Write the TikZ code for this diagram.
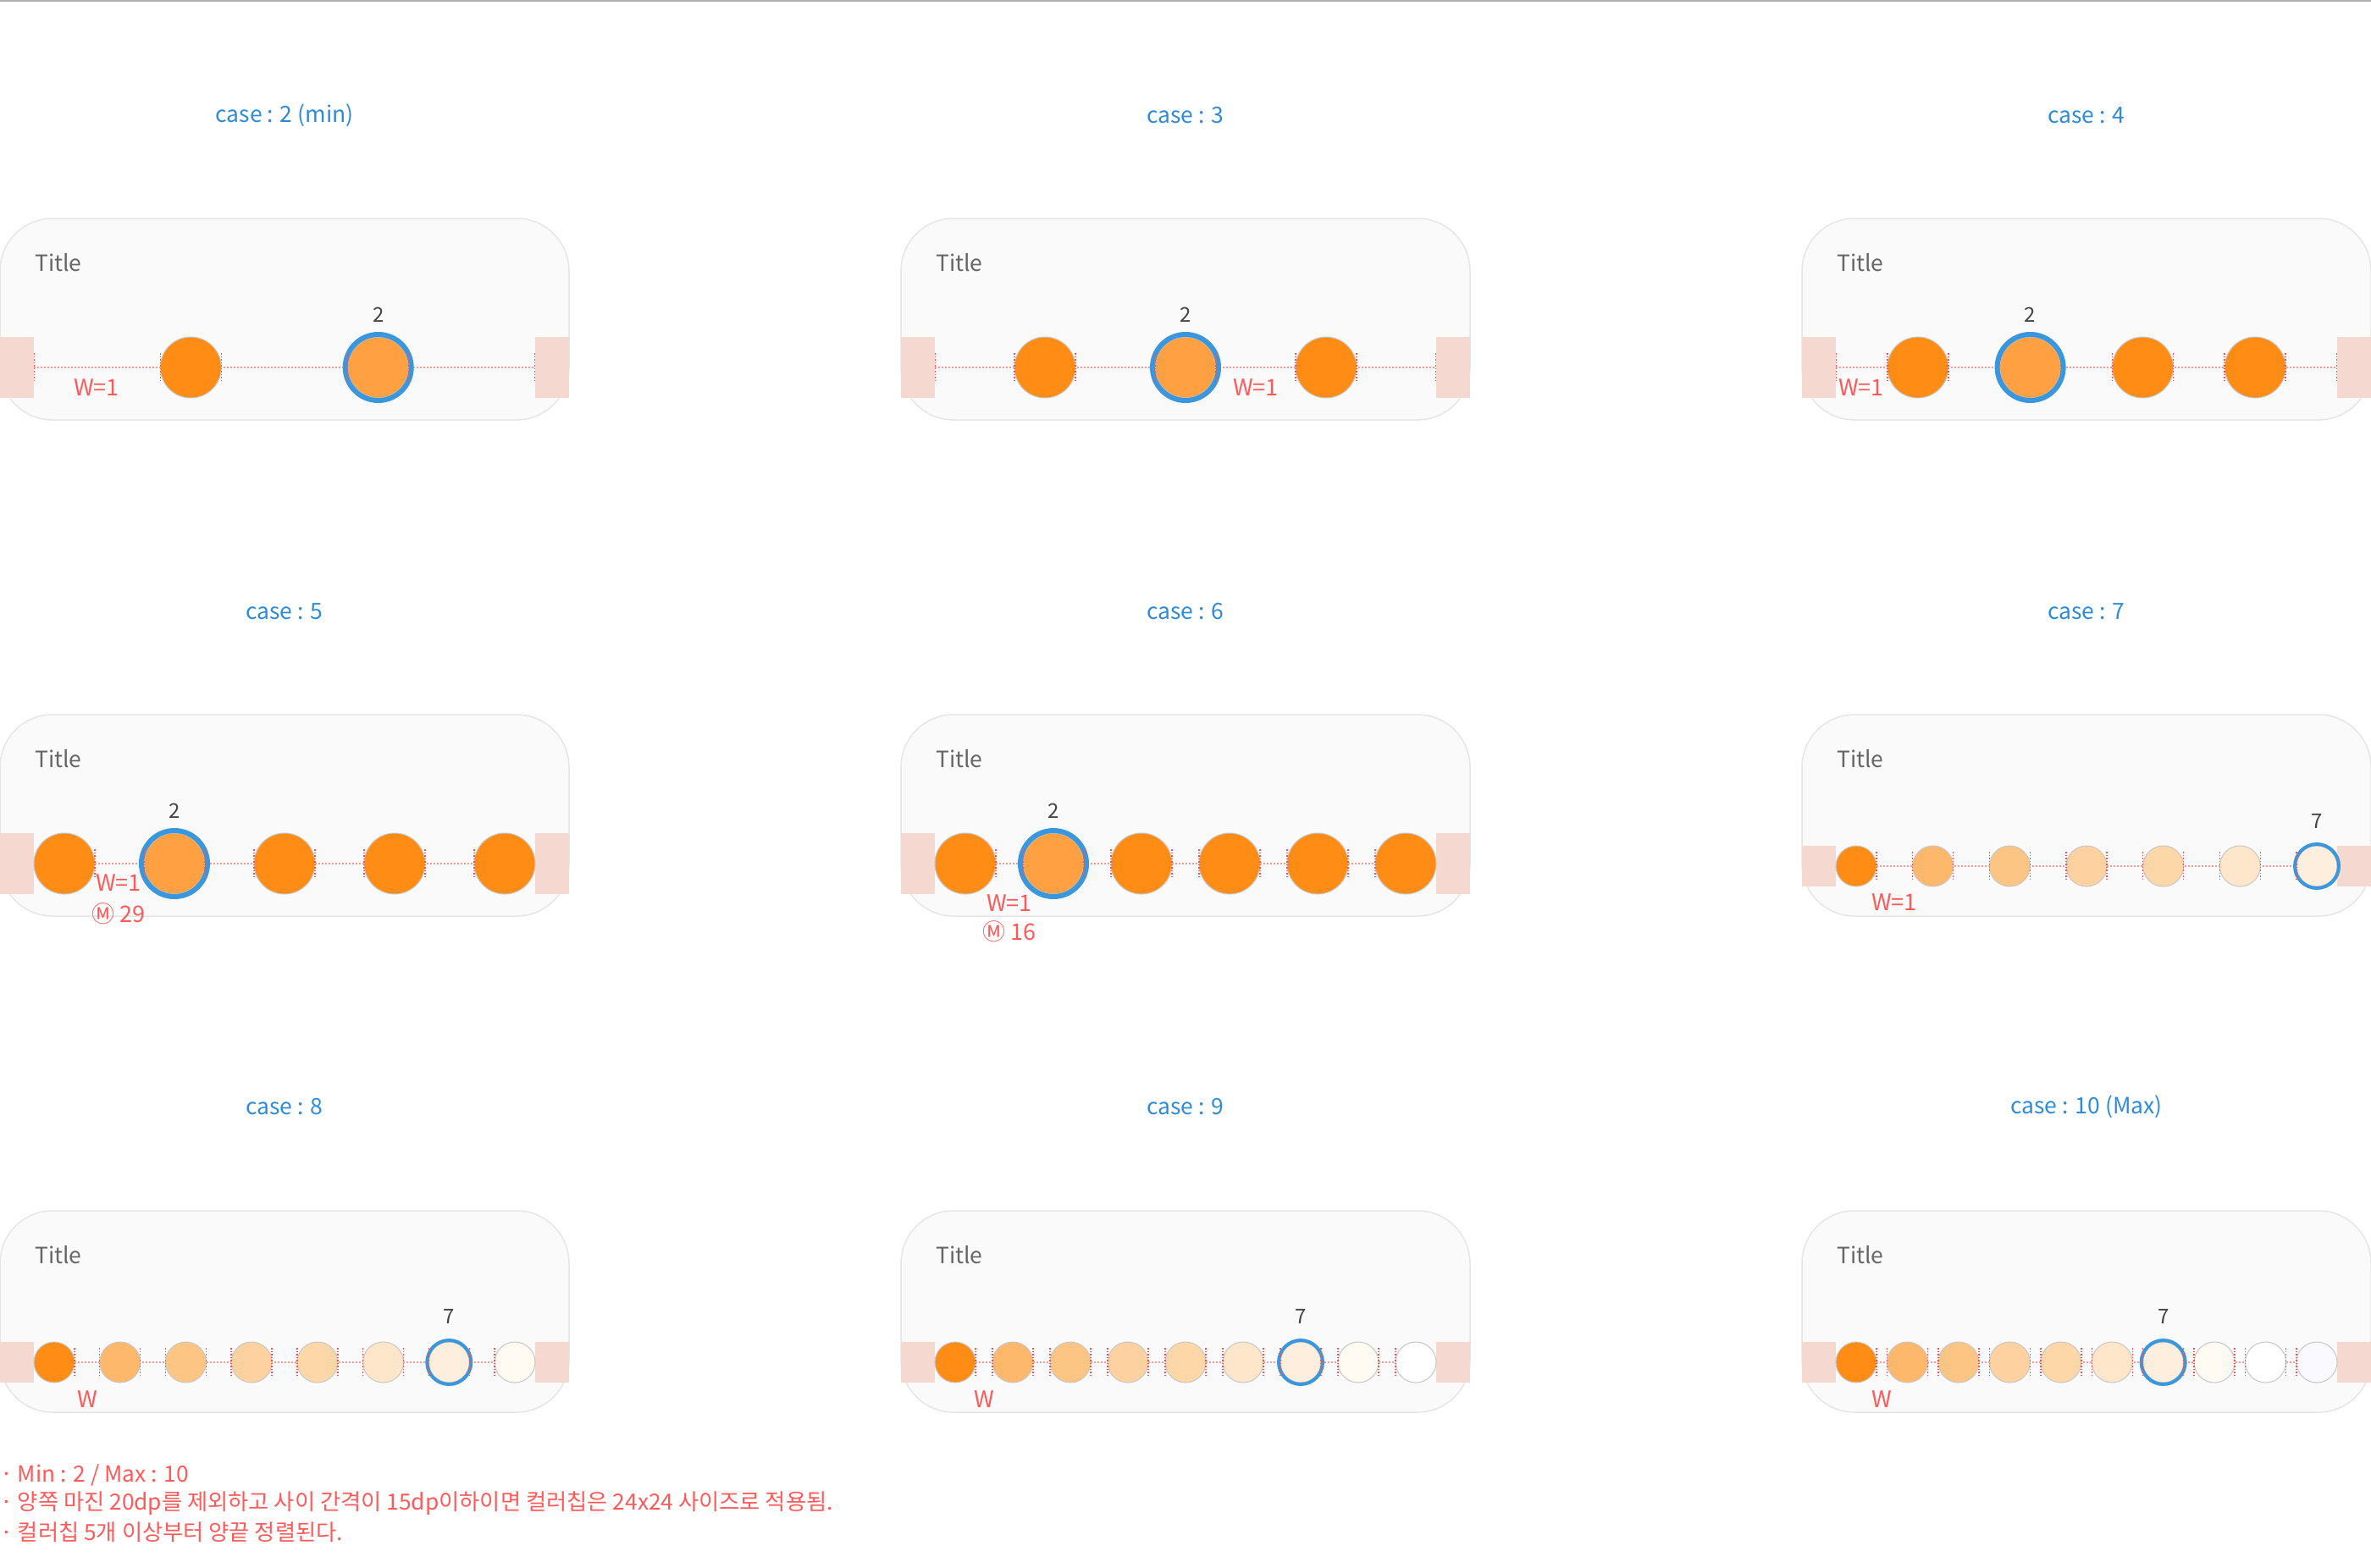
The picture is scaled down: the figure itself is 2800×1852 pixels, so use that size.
\documentclass[tikz,border=0pt]{standalone}
\usepackage{fontspec}
\setmainfont{Noto Sans CJK KR}
\usepackage{tikz}
\usetikzlibrary{positioning}
\definecolor{cardbg}{RGB}{250,250,250}
\definecolor{cardline}{RGB}{230,230,230}
\definecolor{padpink}{RGB}{245,217,208}
\definecolor{pickorange}{RGB}{255,161,66}
\definecolor{pickblue}{RGB}{58,150,221}
\definecolor{caseblue}{RGB}{46,139,218}
\definecolor{notered}{RGB}{255,90,90}
\definecolor{dotred}{RGB}{255,150,150}
\definecolor{tickred}{RGB}{250,80,80}
\definecolor{titlegray}{RGB}{102,102,102}
\definecolor{numgray}{RGB}{68,68,68}
\definecolor{topgray}{RGB}{176,176,176}
\definecolor{tone1}{RGB}{255,140,20}
\definecolor{tone2}{RGB}{253,184,107}
\definecolor{tone3}{RGB}{253,197,132}
\definecolor{tone4}{RGB}{253,210,160}
\definecolor{tone5}{RGB}{253,215,168}
\definecolor{tone6}{RGB}{254,230,203}
\definecolor{tone7}{RGB}{254,238,221}
\definecolor{tone8}{RGB}{255,250,242}
\definecolor{tone9}{RGB}{255,255,255}
\definecolor{tone10}{RGB}{249,249,255}

\begin{document}
\begin{tikzpicture}[x=1pt, y=-1pt,
  card/.style={draw=cardline, line width=1.5, fill=cardbg, rounded corners=62},
  sidepad/.style={fill=padpink, inner sep=0, minimum width=40, minimum height=#1},
  chip/.style={circle, fill=#1, draw=black!22, line width=1, inner sep=0, outer sep=0, minimum size=72},
  ring/.style={draw=pickblue, line width=6},
  gapline/.style={draw=dotred, dotted, line width=2},
  tick/.style={draw=tickred, dotted, line width=1.5},
  caselabel/.style={text=caseblue, font=\fontsize{26.5}{32}\selectfont},
  titletext/.style={text=titlegray, anchor=west, inner sep=0, font=\fontsize{26.5}{32}\selectfont},
  num/.style={text=numgray, inner sep=0, font=\fontsize{24}{28}\selectfont},
  wlabel/.style={text=notered, inner sep=0, font=\fontsize{27}{32}\selectfont},
  note/.style={text=notered, anchor=west, inner sep=0, font=\fontsize{26.3}{30}\selectfont}]
\useasboundingbox (0,0) rectangle (2800,1852);
\draw[topgray, line width=2] (0,1) -- (2800,1);

% case : 2 (min)
\begin{scope}[shift={(0,258)}]
\draw[card] (0,0) rectangle (672,238);
\node[caselabel] (k2) at (336,-122) {case : 2 (min)};
\node[titletext] (h2) at (41,52) {Title};
\node[sidepad=72, anchor=west] (l2) at (0,176) {};
\node[sidepad=72, anchor=east] (r2) at (672,176) {};
\draw[gapline] (l2.east) -- (r2.west);
\foreach \x [count=\i] in {225.3,446.7}
  \node[chip=tone1] (c2-\i) at (\x,176) {};
\node[chip=pickorange] (c2-2) at (446.7,176) {};
\draw[ring] (c2-2) circle[radius=39];
\foreach \p in {l2.east, c2-1.west, c2-1.east, c2-2.west, c2-2.east, r2.west}
  \draw[tick] ([yshift=17pt]\p) -- ([yshift=-17pt]\p);
\node[num] (s2) at (446.7,114) {2};
\node[wlabel] (w2) at (114,200) {W=1};
\end{scope}

% case : 3
\begin{scope}[shift={(1064,258)}]
\draw[card] (0,0) rectangle (672,238);
\node[caselabel] (k3) at (336,-122) {case : 3};
\node[titletext] (h3) at (41,52) {Title};
\node[sidepad=72, anchor=west] (l3) at (0,176) {};
\node[sidepad=72, anchor=east] (r3) at (672,176) {};
\draw[gapline] (l3.east) -- (r3.west);
\foreach \x [count=\i] in {170,336,502}
  \node[chip=tone1] (c3-\i) at (\x,176) {};
\node[chip=pickorange] (c3-2) at (336,176) {};
\draw[ring] (c3-2) circle[radius=39];
\foreach \p in {l3.east, c3-1.west, c3-1.east, c3-2.west, c3-2.east, c3-3.west, c3-3.east, r3.west}
  \draw[tick] ([yshift=17pt]\p) -- ([yshift=-17pt]\p);
\node[num] (s3) at (336,114) {2};
\node[wlabel] (w3) at (419,200) {W=1};
\end{scope}

% case : 4
\begin{scope}[shift={(2128,258)}]
\draw[card] (0,0) rectangle (672,238);
\node[caselabel] (k4) at (336,-122) {case : 4};
\node[titletext] (h4) at (41,52) {Title};
\node[sidepad=72, anchor=west] (l4) at (0,176) {};
\node[sidepad=72, anchor=east] (r4) at (672,176) {};
\draw[gapline] (l4.east) -- (r4.west);
\foreach \x [count=\i] in {136.8,269.6,402.4,535.2}
  \node[chip=tone1] (c4-\i) at (\x,176) {};
\node[chip=pickorange] (c4-2) at (269.6,176) {};
\draw[ring] (c4-2) circle[radius=39];
\foreach \p in {l4.east, c4-1.west, c4-1.east, c4-2.west, c4-2.east, c4-3.west, c4-3.east, c4-4.west, c4-4.east, r4.west}
  \draw[tick] ([yshift=17pt]\p) -- ([yshift=-17pt]\p);
\node[num] (s4) at (269.6,114) {2};
\node[wlabel] (w4) at (70,200) {W=1};
\end{scope}

% case : 5
\begin{scope}[shift={(0,844)}]
\draw[card] (0,0) rectangle (672,238);
\node[caselabel] (k5) at (336,-122) {case : 5};
\node[titletext] (h5) at (41,52) {Title};
\node[sidepad=72, anchor=west] (l5) at (0,176) {};
\node[sidepad=72, anchor=east] (r5) at (672,176) {};
\draw[gapline] (l5.east) -- (r5.west);
\foreach \x [count=\i] in {76,206,336,466,596}
  \node[chip=tone1] (c5-\i) at (\x,176) {};
\node[chip=pickorange] (c5-2) at (206,176) {};
\draw[ring] (c5-2) circle[radius=39];
\foreach \i [evaluate=\i as \j using int(\i+1)] in {1,...,4}
  \draw[tick] ([yshift=17pt]c5-\i.east) -- ([yshift=-17pt]c5-\i.east)
              ([yshift=17pt]c5-\j.west) -- ([yshift=-17pt]c5-\j.west);
\node[num] (s5) at (206,114) {2};
\node[wlabel] (w5) at (140,199) {W=1};
\node[wlabel] (m5) at (140,235) {Ⓜ 29};
\end{scope}

% case : 6
\begin{scope}[shift={(1064,844)}]
\draw[card] (0,0) rectangle (672,238);
\node[caselabel] (k6) at (336,-122) {case : 6};
\node[titletext] (h6) at (41,52) {Title};
\node[sidepad=72, anchor=west] (l6) at (0,176) {};
\node[sidepad=72, anchor=east] (r6) at (672,176) {};
\draw[gapline] (l6.east) -- (r6.west);
\foreach \x [count=\i] in {76,180,284,388,492,596}
  \node[chip=tone1] (c6-\i) at (\x,176) {};
\node[chip=pickorange] (c6-2) at (180,176) {};
\draw[ring] (c6-2) circle[radius=39];
\foreach \i [evaluate=\i as \j using int(\i+1)] in {1,...,5}
  \draw[tick] ([yshift=17pt]c6-\i.east) -- ([yshift=-17pt]c6-\i.east)
              ([yshift=17pt]c6-\j.west) -- ([yshift=-17pt]c6-\j.west);
\node[num] (s6) at (180,114) {2};
\node[wlabel] (w6) at (128,223) {W=1};
\node[wlabel] (m6) at (128,256) {Ⓜ 16};
\end{scope}

% case : 7
\begin{scope}[shift={(2128,844)}]
\draw[card] (0,0) rectangle (672,238);
\node[caselabel] (k7) at (336,-122) {case : 7};
\node[titletext] (h7) at (41,52) {Title};
\node[sidepad=48, anchor=west] (l7) at (0,179) {};
\node[sidepad=48, anchor=east] (r7) at (672,179) {};
\draw[gapline] (l7.east) -- (r7.west);
\foreach \i in {1,...,7}
  \node[chip=tone\i, minimum size=48] (c7-\i) at ({64+90.667*(\i-1)},179) {};
\draw[ring, line width=4] (c7-7) circle[radius=26];
\foreach \i [evaluate=\i as \j using int(\i+1)] in {1,...,6}
  \draw[tick] ([yshift=17pt]c7-\i.east) -- ([yshift=-17pt]c7-\i.east)
              ([yshift=17pt]c7-\j.west) -- ([yshift=-17pt]c7-\j.west);
\node[num] (s7) at (608,126) {7};
\node[wlabel] (w7) at (109,222) {W=1};
\end{scope}

% case : 8
\begin{scope}[shift={(0,1430)}]
\draw[card] (0,0) rectangle (672,238);
\node[caselabel] (k8) at (336,-123) {case : 8};
\node[titletext] (h8) at (41,52) {Title};
\node[sidepad=48, anchor=west] (l8) at (0,179) {};
\node[sidepad=48, anchor=east] (r8) at (672,179) {};
\draw[gapline] (l8.east) -- (r8.west);
\foreach \i in {1,...,8}
  \node[chip=tone\i, minimum size=48] (c8-\i) at ({64+77.714*(\i-1)},179) {};
\draw[ring, line width=4] (c8-7) circle[radius=26];
\foreach \i [evaluate=\i as \j using int(\i+1)] in {1,...,7}
  \draw[tick] ([yshift=17pt]c8-\i.east) -- ([yshift=-17pt]c8-\i.east)
              ([yshift=17pt]c8-\j.west) -- ([yshift=-17pt]c8-\j.west);
\node[num] (s8) at (530.3,125) {7};
\node[wlabel] (w8) at (103,223) {W};
\end{scope}

% case : 9
\begin{scope}[shift={(1064,1430)}]
\draw[card] (0,0) rectangle (672,238);
\node[caselabel] (k9) at (336,-123) {case : 9};
\node[titletext] (h9) at (41,52) {Title};
\node[sidepad=48, anchor=west] (l9) at (0,179) {};
\node[sidepad=48, anchor=east] (r9) at (672,179) {};
\draw[gapline] (l9.east) -- (r9.west);
\foreach \i in {1,...,9}
  \node[chip=tone\i, minimum size=48] (c9-\i) at ({64+68*(\i-1)},179) {};
\draw[ring, line width=4] (c9-7) circle[radius=26];
\foreach \i [evaluate=\i as \j using int(\i+1)] in {1,...,8}
  \draw[tick] ([yshift=17pt]c9-\i.east) -- ([yshift=-17pt]c9-\i.east)
              ([yshift=17pt]c9-\j.west) -- ([yshift=-17pt]c9-\j.west);
\node[num] (s9) at (472,125) {7};
\node[wlabel] (w9) at (98,223) {W};
\end{scope}

% case : 10 (Max)
\begin{scope}[shift={(2128,1430)}]
\draw[card] (0,0) rectangle (672,238);
\node[caselabel] (k10) at (336,-123) {case : 10 (Max)};
\node[titletext] (h10) at (41,52) {Title};
\node[sidepad=48, anchor=west] (l10) at (0,179) {};
\node[sidepad=48, anchor=east] (r10) at (672,179) {};
\draw[gapline] (l10.east) -- (r10.west);
\foreach \i in {1,...,10}
  \node[chip=tone\i, minimum size=48] (c10-\i) at ({64+60.444*(\i-1)},179) {};
\draw[ring, line width=4] (c10-7) circle[radius=26];
\foreach \i [evaluate=\i as \j using int(\i+1)] in {1,...,9}
  \draw[tick] ([yshift=17pt]c10-\i.east) -- ([yshift=-17pt]c10-\i.east)
              ([yshift=17pt]c10-\j.west) -- ([yshift=-17pt]c10-\j.west);
\node[num] (s10) at (426.7,125) {7};
\node[wlabel] (w10) at (94,223) {W};
\end{scope}

% notes
\node[note] (n1) at (0,1742) {· Min : 2 / Max : 10};
\node[note] (n2) at ([yshift=-34pt]n1.west) {· 양쪽 마진 20dp를 제외하고 사이 간격이 15dp이하이면 컬러칩은 24x24 사이즈로 적용됨.};
\node[note] (n3) at ([yshift=-34pt]n2.west) {· 컬러칩 5개 이상부터 양끝 정렬된다.};
\end{tikzpicture}
\end{document}
